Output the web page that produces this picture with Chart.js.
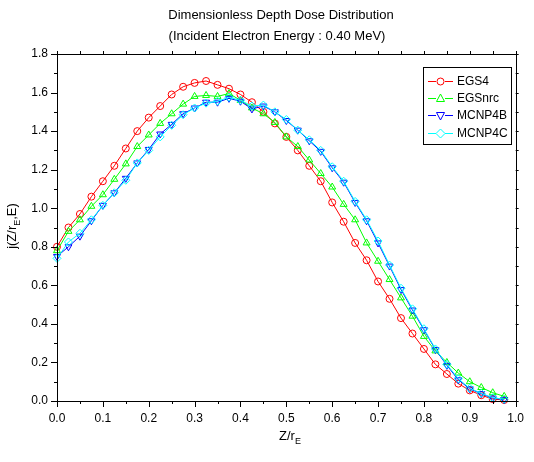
<!DOCTYPE html>
<html>
<head>
<meta charset="utf-8">
<title>Dimensionless Depth Dose Distribution</title>
<script src="https://cdn.jsdelivr.net/npm/chart.js"></script>
<style>
    html, body {
        margin: 0;
        padding: 0;
        background: #ffffff;
    }
    #chart {
        display: block;
    }
</style>
</head>
<body>
<canvas id="chart" width="534" height="462"></canvas>
<script>
// depth Z/rE, one point every 0.025
const depth = [0.000, 0.025, 0.050, 0.075, 0.100, 0.125, 0.150, 0.175, 0.200, 0.225,
               0.250, 0.275, 0.300, 0.325, 0.350, 0.375, 0.400, 0.425, 0.450, 0.475,
               0.500, 0.525, 0.550, 0.575, 0.600, 0.625, 0.650, 0.675, 0.700, 0.725,
               0.750, 0.775, 0.800, 0.825, 0.850, 0.875, 0.900, 0.925, 0.950, 0.975];

const egs4   = [0.80, 0.90, 0.97, 1.06, 1.14, 1.22, 1.31, 1.40, 1.47, 1.53,
                1.59, 1.63, 1.65, 1.66, 1.64, 1.62, 1.59, 1.55, 1.50, 1.44,
                1.37, 1.30, 1.22, 1.14, 1.03, 0.93, 0.82, 0.73, 0.62, 0.53,
                0.43, 0.35, 0.27, 0.19, 0.14, 0.09, 0.055, 0.03, 0.01, 0.005];

const egsnrc = [0.78, 0.88, 0.94, 1.01, 1.07, 1.15, 1.23, 1.32, 1.38, 1.44,
                1.49, 1.54, 1.58, 1.585, 1.58, 1.595, 1.56, 1.52, 1.49, 1.445,
                1.37, 1.32, 1.25, 1.18, 1.11, 1.02, 0.94, 0.82, 0.725, 0.63,
                0.535, 0.44, 0.335, 0.26, 0.20, 0.145, 0.10, 0.07, 0.043, 0.024];

const mcnp4b = [0.75, 0.80, 0.855, 0.935, 1.015, 1.08, 1.155, 1.235, 1.305, 1.385,
                1.435, 1.49, 1.52, 1.55, 1.55, 1.57, 1.555, 1.515, 1.53, 1.50,
                1.455, 1.405, 1.35, 1.295, 1.21, 1.135, 1.03, 0.935, 0.82, 0.70,
                0.578, 0.472, 0.37, 0.267, 0.185, 0.11, 0.063, 0.038, 0.015, 0.007];

const mcnp4c = [0.74, 0.825, 0.87, 0.94, 1.015, 1.08, 1.145, 1.235, 1.30, 1.37,
                1.43, 1.485, 1.52, 1.545, 1.555, 1.575, 1.56, 1.53, 1.535, 1.50,
                1.46, 1.405, 1.355, 1.30, 1.215, 1.14, 1.035, 0.94, 0.83, 0.705,
                0.585, 0.478, 0.375, 0.27, 0.19, 0.115, 0.066, 0.04, 0.017, 0.009];

const seriesNames = ['EGS4', 'EGSnrc', 'MCNP4B', 'MCNP4C'];
const titleLines = ['Dimensionless Depth Dose Distribution', '(Incident Electron Energy : 0.40 MeV)'];

const FONT = '"Liberation Sans", Arial, sans-serif';

function toPoints(ys) {
    return depth.map((x, i) => ({x: x, y: ys[i]}));
}

function makeSet(label, ys, color, style, rot, order) {
    return {
        label: label,
        data: toPoints(ys),
        borderColor: color,
        backgroundColor: 'rgba(0,0,0,0)',
        borderWidth: 1,
        pointStyle: style,
        pointRotation: rot,
        pointRadius: style === 'circle' ? 3.5 : 4,
        pointBorderColor: color,
        pointBackgroundColor: 'rgba(0,0,0,0)',
        pointBorderWidth: 1,
        tension: 0,
        clip: false,
        order: order
    };
}

// little marker shapes for the legend box
function drawMarker(ctx, style, x, y, color) {
    ctx.save();
    ctx.strokeStyle = color;
    ctx.lineWidth = 1;
    ctx.beginPath();
    if (style === 'circle') {
        ctx.arc(x, y, 3.5, 0, Math.PI * 2);
    } else if (style === 'up') {
        ctx.moveTo(x, y - 4.5);
        ctx.lineTo(x + 4, y + 3);
        ctx.lineTo(x - 4, y + 3);
        ctx.closePath();
    } else if (style === 'down') {
        ctx.moveTo(x, y + 4.5);
        ctx.lineTo(x + 4, y - 3);
        ctx.lineTo(x - 4, y - 3);
        ctx.closePath();
    } else {
        ctx.moveTo(x, y - 4.5);
        ctx.lineTo(x + 4.5, y);
        ctx.lineTo(x, y + 4.5);
        ctx.lineTo(x - 4.5, y);
        ctx.closePath();
    }
    ctx.stroke();
    ctx.restore();
}

const framePlugin = {
    id: 'originFrame',
    afterDraw(chart) {
        const ctx = chart.ctx;
        const area = chart.chartArea;
        const xs = chart.scales.x;
        const ys = chart.scales.y;

        ctx.save();
        ctx.strokeStyle = '#000';
        ctx.lineWidth = 1;
        ctx.strokeRect(Math.round(area.left) + 0.5, Math.round(area.top) + 0.5,
                       Math.round(area.right - area.left), Math.round(area.bottom - area.top));

        // tick marks, all pointing outwards
        ctx.beginPath();
        for (let i = 0; i <= 20; i++) {
            const px = Math.round(xs.getPixelForValue(i * 0.05)) + 0.5;
            const major = i % 2 === 0;
            ctx.moveTo(px, area.bottom);
            ctx.lineTo(px, area.bottom + (major ? 6 : 3));
            ctx.moveTo(px, area.top);
            ctx.lineTo(px, area.top - 3);
        }
        for (let i = 0; i <= 18; i++) {
            const py = Math.round(ys.getPixelForValue(i * 0.1)) + 0.5;
            const major = i % 2 === 0;
            ctx.moveTo(area.left, py);
            ctx.lineTo(area.left - (major ? 6 : 3), py);
            ctx.moveTo(area.right, py);
            ctx.lineTo(area.right + 3, py);
        }
        ctx.stroke();

        // titles
        ctx.fillStyle = '#000';
        ctx.font = '13px ' + FONT;
        ctx.textAlign = 'center';
        ctx.textBaseline = 'middle';
        ctx.fillText(titleLines[0], 281, 15);
        ctx.fillText(titleLines[1], 277, 36);

        // x axis title Z/rE
        ctx.textAlign = 'left';
        const xMain = 'Z/r';
        const w1 = ctx.measureText(xMain).width;
        ctx.font = '9px ' + FONT;
        const w2 = ctx.measureText('E').width;
        const xStart = 290 - (w1 + w2) / 2;
        ctx.font = '13px ' + FONT;
        ctx.fillText(xMain, xStart, 436);
        ctx.font = '9px ' + FONT;
        ctx.fillText('E', xStart + w1, 442);

        // y axis title j(Z/rE,E)
        ctx.save();
        ctx.translate(12, 226);
        ctx.rotate(-Math.PI / 2);
        ctx.font = '13px ' + FONT;
        const a = 'j(Z/r';
        const b = ',E)';
        const wa = ctx.measureText(a).width;
        const wb = ctx.measureText(b).width;
        ctx.font = '9px ' + FONT;
        const we = ctx.measureText('E').width;
        let sx = -(wa + we + wb) / 2;
        ctx.font = '13px ' + FONT;
        ctx.fillText(a, sx, 0);
        ctx.font = '9px ' + FONT;
        ctx.fillText('E', sx + wa, 6);
        ctx.font = '13px ' + FONT;
        ctx.fillText(b, sx + wa + we, 0);
        ctx.restore();

        // legend box
        ctx.strokeRect(423.5, 67.5, 88, 77);
        const colors = ['#ff0000', '#00ff00', '#0000ff', '#00ffff'];
        const shapes = ['circle', 'up', 'down', 'diamond'];
        const rows = [81, 98, 115, 133];
        ctx.font = '12px ' + FONT;
        ctx.textAlign = 'left';
        for (let i = 0; i < 4; i++) {
            ctx.strokeStyle = colors[i];
            ctx.beginPath();
            ctx.moveTo(428, rows[i] + 0.5);
            ctx.lineTo(453, rows[i] + 0.5);
            ctx.stroke();
            ctx.fillStyle = '#fff';
            ctx.fillRect(436, rows[i] - 4, 9, 9);
            drawMarker(ctx, shapes[i], 440.5, rows[i] + 0.5, colors[i]);
            ctx.fillStyle = '#000';
            ctx.fillText(seriesNames[i], 457, rows[i] + 1);
        }
        ctx.restore();
    }
};

const ctx = document.getElementById('chart');
const chart = new Chart(ctx, {
    type: 'line',
    data: {
        datasets: [
            makeSet(seriesNames[0], egs4, '#ff0000', 'circle', 0, 3),
            makeSet(seriesNames[1], egsnrc, '#00ff00', 'triangle', 0, 2),
            makeSet(seriesNames[2], mcnp4b, '#0000ff', 'triangle', 180, 1),
            makeSet(seriesNames[3], mcnp4c, '#00ffff', 'rectRot', 0, 0)
        ]
    },
    options: {
        responsive: false,
        animation: false,
        layout: {
            padding: {top: 54, right: 10, left: 0, bottom: 0}
        },
        plugins: {
            legend: {display: false},
            title: {display: false},
            tooltip: {enabled: false}
        },
        scales: {
            x: {
                type: 'linear',
                min: 0,
                max: 1,
                grid: {display: false, drawTicks: false},
                border: {display: false},
                ticks: {
                    stepSize: 0.1,
                    padding: 10,
                    color: '#000',
                    maxRotation: 0,
                    font: {family: FONT, size: 12},
                    callback: v => v.toFixed(1)
                },
                afterFit: s => { s.height = 61; }
            },
            y: {
                min: 0,
                max: 1.8,
                grid: {display: false, drawTicks: false},
                border: {display: false},
                ticks: {
                    stepSize: 0.2,
                    padding: 9,
                    color: '#000',
                    font: {family: FONT, size: 12},
                    callback: v => v.toFixed(1)
                },
                afterFit: s => { s.width = 57; }
            }
        }
    },
    plugins: [framePlugin]
});
</script>
</body>
</html>
